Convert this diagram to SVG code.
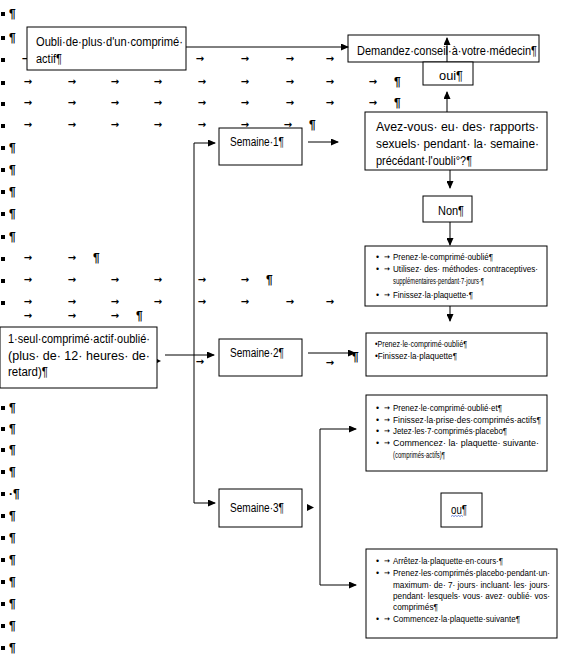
<svg xmlns="http://www.w3.org/2000/svg" width="574" height="658" viewBox="0 0 574 658">
<defs>
<marker id="ah" markerUnits="userSpaceOnUse" markerWidth="8" markerHeight="7" refX="7" refY="3.5" orient="auto"><path d="M0,0 L8,3.5 L0,7 Z" fill="#000"/></marker>
<style>
.box{fill:#fff;stroke:#000;stroke-width:1}
.t{font-family:"Liberation Sans",Arial,sans-serif;font-size:12.5px;fill:#000}
.s{font-family:"Liberation Sans",Arial,sans-serif;font-size:8.8px;fill:#000}
.tab{font-family:"DejaVu Sans",sans-serif;font-size:10px;font-weight:bold;fill:#000;text-anchor:middle}
.stab{font-family:"DejaVu Sans",sans-serif;font-size:7px;font-weight:bold;fill:#000;text-anchor:middle}
.p{font-family:"Liberation Sans",Arial,sans-serif;font-size:12px;font-weight:bold;fill:#000}
.c{fill:none;stroke:#000;stroke-width:1}
.sq{fill:#000}
</style>
</defs>
<rect width="574" height="658" fill="#fff"/>
<g id="marks">
<g class="sq">
<rect x="1" y="12" width="4" height="4"/><rect x="1" y="36" width="4" height="4"/><rect x="1" y="58" width="4" height="4"/><rect x="1" y="81" width="4" height="4"/><rect x="1" y="102" width="4" height="4"/><rect x="1" y="124" width="4" height="4"/><rect x="1" y="146" width="4" height="4"/><rect x="1" y="168" width="4" height="4"/><rect x="1" y="190" width="4" height="4"/><rect x="1" y="212" width="4" height="4"/><rect x="1" y="235" width="4" height="4"/><rect x="1" y="257" width="4" height="4"/><rect x="1" y="279" width="4" height="4"/><rect x="1" y="301" width="4" height="4"/>
<rect x="1" y="406" width="4" height="4"/><rect x="1" y="427" width="4" height="4"/><rect x="1" y="448" width="4" height="4"/><rect x="1" y="470" width="4" height="4"/><rect x="1" y="492" width="4" height="4"/><rect x="1" y="514" width="4" height="4"/><rect x="1" y="536" width="4" height="4"/><rect x="1" y="558" width="4" height="4"/><rect x="1" y="580" width="4" height="4"/><rect x="1" y="602" width="4" height="4"/><rect x="1" y="624" width="4" height="4"/><rect x="1" y="646" width="4" height="4"/>
</g>
<text class="p" x="9" y="18">¶</text><text class="p" x="9" y="42">¶</text>
<text class="p" x="9" y="152">¶</text><text class="p" x="9" y="174">¶</text><text class="p" x="9" y="196">¶</text><text class="p" x="9" y="218">¶</text><text class="p" x="9" y="241">¶</text>
<text class="p" x="9" y="412">¶</text><text class="p" x="9" y="433">¶</text><text class="p" x="9" y="454">¶</text><text class="p" x="9" y="476">¶</text><text class="p" x="9" y="498">·¶</text><text class="p" x="9" y="520">¶</text><text class="p" x="9" y="542">¶</text><text class="p" x="9" y="564">¶</text><text class="p" x="9" y="586">¶</text><text class="p" x="9" y="608">¶</text><text class="p" x="9" y="630">¶</text><text class="p" x="9" y="652">¶</text>
<text class="tab" x="26" y="62">→</text>
<text class="tab" x="200 245 290 330" y="62">→→→→</text>
<text class="tab" x="28 72 115 158 202 245 290 330 373" y="85">→→→→→→→→→</text><text class="p" x="394" y="86">¶</text>
<text class="tab" x="28 72 115 158 202 245 290 330 373" y="106">→→→→→→→→→</text><text class="p" x="394" y="107">¶</text>
<text class="tab" x="28 72 115 158 202 245 288" y="128">→→→→→→→</text><text class="p" x="309" y="129">¶</text>
<text class="tab" x="28 72" y="261">→→</text><text class="p" x="93" y="262">¶</text>
<text class="tab" x="28 72 115 158 202 245" y="283">→→→→→→</text><text class="p" x="266" y="284">¶</text>
<text class="tab" x="28 72 115 158 202 245 290 330" y="305">→→→→→→→→</text>
<text class="tab" x="28 72 115" y="319">→→→</text><text class="p" x="136" y="320">¶</text>
<text class="tab" x="200" y="365">→</text>
<text class="tab" x="330" y="366">→</text>
<text class="p" x="352" y="361">¶</text>
</g>
<g id="n-oubli"><rect class="box" x="27" y="27" width="159" height="43"/>
<text class="t" x="36" y="46" textLength="147" lengthAdjust="spacingAndGlyphs">Oubli·de·plus·d'un·comprimé·</text>
<text class="t" x="36" y="63" textLength="26" lengthAdjust="spacingAndGlyphs">actif¶</text></g>
<g id="n-demandez"><rect class="box" x="348" y="35" width="191" height="27"/>
<text class="t" x="357" y="55" textLength="180" lengthAdjust="spacingAndGlyphs">Demandez·conseil·à·votre·médecin¶</text></g>
<g id="n-oui"><rect class="box" x="423" y="62" width="50" height="23"/>
<text class="t" x="439" y="80" textLength="24" lengthAdjust="spacingAndGlyphs">oui¶</text></g>
<g id="n-question"><rect class="box" x="365" y="112" width="182" height="58"/>
<text class="t" x="376" y="131" textLength="163" lengthAdjust="spacingAndGlyphs">Avez-vous· eu· des· rapports·</text>
<text class="t" x="376" y="148" textLength="163" lengthAdjust="spacingAndGlyphs">sexuels· pendant· la· semaine·</text>
<text class="t" x="376" y="165" textLength="96" lengthAdjust="spacingAndGlyphs">précédant·l'oubli°?¶</text></g>
<g id="n-non"><rect class="box" x="423" y="196" width="49" height="26"/>
<text class="t" x="438" y="215" textLength="26" lengthAdjust="spacingAndGlyphs">Non¶</text></g>
<g id="n-s1box"><rect class="box" x="365" y="246" width="182" height="60"/>
<text class="s" x="376" y="260">•</text><text class="stab" x="387" y="259">→</text>
<text class="s" x="393" y="260" textLength="100" lengthAdjust="spacingAndGlyphs">Prenez·le·comprimé·oublié¶</text>
<text class="s" x="376" y="272">•</text><text class="stab" x="387" y="271">→</text>
<text class="s" x="393" y="272" textLength="145" lengthAdjust="spacingAndGlyphs">Utilisez· des· méthodes· contraceptives·</text>
<text class="s" x="393" y="284" textLength="91" lengthAdjust="spacingAndGlyphs">supplémentaires·pendant·7·jours·¶</text>
<text class="s" x="376" y="298">•</text><text class="stab" x="387" y="297">→</text>
<text class="s" x="393" y="298" textLength="80" lengthAdjust="spacingAndGlyphs">Finissez·la·plaquette·¶</text></g>
<g id="n-semaine1"><rect class="box" x="219" y="128" width="83" height="37"/>
<text class="t" x="230" y="146" textLength="54" lengthAdjust="spacingAndGlyphs">Semaine·1¶</text></g>
<g id="n-seul"><rect class="box" x="0" y="327" width="157" height="61"/>
<text class="t" x="8" y="343" textLength="142" lengthAdjust="spacingAndGlyphs">1·seul·comprimé·actif·oublié·</text>
<text class="t" x="8" y="360" textLength="142" lengthAdjust="spacingAndGlyphs">(plus· de· 12· heures· de·</text>
<text class="t" x="8" y="376" textLength="40" lengthAdjust="spacingAndGlyphs">retard)¶</text></g>
<g id="n-semaine2"><rect class="box" x="219" y="339" width="83" height="37"/>
<text class="t" x="230" y="357" textLength="54" lengthAdjust="spacingAndGlyphs">Semaine·2¶</text></g>
<g id="n-s2box"><rect class="box" x="366" y="333" width="181" height="43"/>
<text class="s" x="375" y="347" textLength="92" lengthAdjust="spacingAndGlyphs">•Prenez·le·comprimé·oublié¶</text>
<text class="s" x="375" y="359" textLength="82" lengthAdjust="spacingAndGlyphs">•Finissez·la·plaquette¶</text></g>
<g id="n-s3box-a"><rect class="box" x="366" y="395" width="181" height="76"/>
<text class="s" x="376" y="411">•</text><text class="stab" x="387" y="410">→</text>
<text class="s" x="393" y="411" textLength="109" lengthAdjust="spacingAndGlyphs">Prenez·le·comprimé·oublié·et¶</text>
<text class="s" x="376" y="423">•</text><text class="stab" x="387" y="422">→</text>
<text class="s" x="393" y="423" textLength="148" lengthAdjust="spacingAndGlyphs">Finissez·la·prise·des·comprimés·actifs¶</text>
<text class="s" x="376" y="434">•</text><text class="stab" x="387" y="433">→</text>
<text class="s" x="393" y="434" textLength="114" lengthAdjust="spacingAndGlyphs">Jetez·les·7·comprimés·placebo¶</text>
<text class="s" x="376" y="446">•</text><text class="stab" x="387" y="445">→</text>
<text class="s" x="393" y="446" textLength="146" lengthAdjust="spacingAndGlyphs">Commencez· la· plaquette· suivante·</text>
<text class="s" x="393" y="458" textLength="52" lengthAdjust="spacingAndGlyphs">(comprimés·actifs)¶</text></g>
<g id="n-semaine3"><rect class="box" x="219" y="489" width="83" height="38"/>
<text class="t" x="230" y="512" textLength="54" lengthAdjust="spacingAndGlyphs">Semaine·3¶</text></g>
<g id="n-ou"><rect class="box" x="441" y="493" width="41" height="34"/>
<text class="t" x="451" y="514" textLength="16" lengthAdjust="spacingAndGlyphs">ou¶</text>
<path d="M451,516.5 l1.5,-1 l1.5,1 l1.5,-1 l1.5,1 l1.5,-1 l1.5,1 l1.5,-1 l1.5,1" fill="none" stroke="#3355cc" stroke-width="0.7"/></g>
<g id="n-s3box-b"><rect class="box" x="366" y="549" width="191" height="89"/>
<text class="s" x="376" y="564">•</text><text class="stab" x="387" y="563">→</text>
<text class="s" x="393" y="564" textLength="110" lengthAdjust="spacingAndGlyphs">Arrêtez·la·plaquette·en·cours·¶</text>
<text class="s" x="376" y="576">•</text><text class="stab" x="387" y="575">→</text>
<text class="s" x="393" y="576" textLength="157" lengthAdjust="spacingAndGlyphs">Prenez·les·comprimés·placebo·pendant·un·</text>
<text class="s" x="393" y="588" textLength="157" lengthAdjust="spacingAndGlyphs">maximum· de· 7· jours· incluant· les· jours·</text>
<text class="s" x="393" y="599" textLength="157" lengthAdjust="spacingAndGlyphs">pendant· lesquels· vous· avez· oublié· vos·</text>
<text class="s" x="393" y="610" textLength="45" lengthAdjust="spacingAndGlyphs">comprimés¶</text>
<text class="s" x="376" y="622">•</text><text class="stab" x="387" y="621">→</text>
<text class="s" x="393" y="622" textLength="127" lengthAdjust="spacingAndGlyphs">Commencez·la·plaquette·suivante¶</text></g>
<g id="connectors">
<path class="c" d="M186,47 H348" marker-end="url(#ah)"/>
<path class="c" d="M447,62 V38" marker-end="url(#ah)"/>
<path class="c" d="M447,112 V92" marker-end="url(#ah)"/>
<path class="c" d="M450,170 V188" marker-end="url(#ah)"/>
<path class="c" d="M450,222 V245" marker-end="url(#ah)"/>
<path class="c" d="M450,306 V321" marker-end="url(#ah)"/>
<path class="c" d="M308,142 H338" marker-end="url(#ah)"/>
<path class="c" d="M194,143 V503"/>
<path class="c" d="M194,143 H215" marker-end="url(#ah)"/>
<path class="c" d="M194,503 H215" marker-end="url(#ah)"/>
<path class="c" d="M165,355 H214" marker-end="url(#ah)"/>
<path class="c" d="M308,353 H355" marker-end="url(#ah)"/>
<path d="M157,359 L161,361 L157,363 Z" fill="#000"/>
<path d="M307,504 L314,507.5 L307,511 Z" fill="#000"/>
<path class="c" d="M320,429 V585"/>
<path class="c" d="M320,429 H356" marker-end="url(#ah)"/>
<path class="c" d="M320,585 H356" marker-end="url(#ah)"/>
</g>
</svg>
